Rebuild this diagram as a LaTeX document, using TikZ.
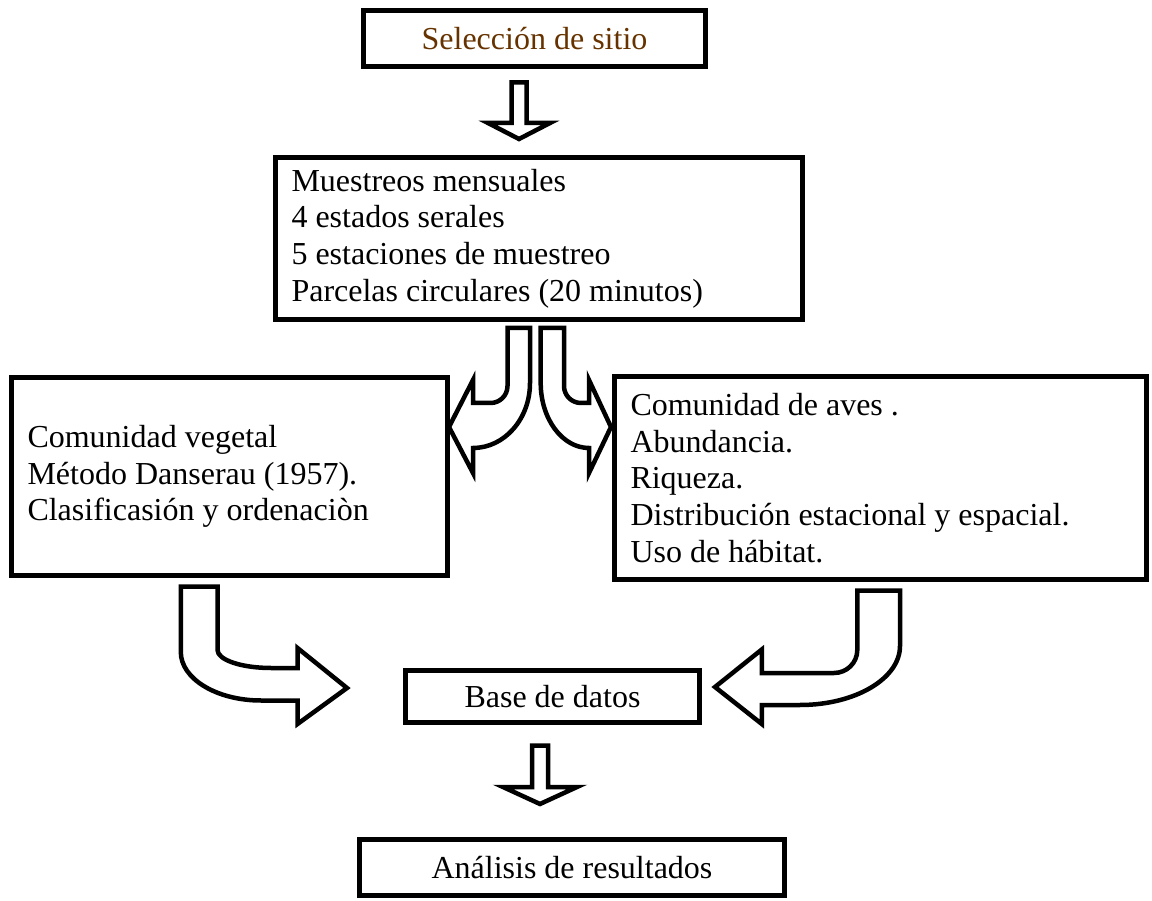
\documentclass[tikz,border=0pt]{standalone}
\usepackage{fontspec}
\setmainfont{Liberation Serif}
\definecolor{brownt}{RGB}{102,51,0}
\begin{document}
\begin{tikzpicture}[x=1pt,y=-1pt,
  box/.style={draw, line width=5pt, rectangle, inner xsep=16pt, inner ysep=0pt,
    font=\fontsize{32}{36.6}\selectfont},
  lbox/.style={box, align=flush left},
  cbox/.style={box, align=center},
  barrow/.style={draw, line width=4.5pt, fill=white, line join=miter, miter limit=10}]
\useasboundingbox (0,0) rectangle (1152,901);

% block arrows
% top straight arrow
\draw[barrow] (511.5,82.5) -- (526.5,82.5) -- (526.5,123) -- (550,123) -- (519,139)
  -- (488,123) -- (511.5,123) -- cycle;
% middle left curved arrow
\draw[barrow] (507.5,328) -- (507.5,386)
  .. controls (507.5,395.4) and (499.9,403) .. (490.5,403)
  -- (473,403) -- (473,380) -- (449,427) -- (473,473) -- (473,448)
  .. controls (504.5,448) and (530,418.9) .. (530,383)
  -- (530,328) -- cycle;
% middle right curved arrow
\draw[barrow] (564,328) -- (564,386)
  .. controls (564,395.4) and (571.6,403) .. (581,403)
  -- (589,403) -- (589,380) -- (611,427) -- (589,473) -- (589,448)
  .. controls (562.3,448) and (540.7,418.9) .. (540.7,383)
  -- (540.7,328) -- cycle;
% bottom left curved arrow
\draw[barrow] (180.8,586.5) -- (217.5,586.5) -- (217.5,650)
  .. controls (217.5,659.9) and (241.5,668) .. (271,668)
  -- (297.5,668) -- (297.5,648) -- (347,688) -- (297.5,724) -- (297.5,700.5)
  -- (261,700.5)
  .. controls (216.7,700.5) and (180.8,678.8) .. (180.8,652)
  -- cycle;
% bottom right curved arrow
\draw[barrow] (857.3,590.5) -- (900,590.5) -- (900,646)
  .. controls (900,678.6) and (855.2,705) .. (800,705)
  -- (761.8,705) -- (761.8,724) -- (715,687) -- (761.8,649.5) -- (761.8,673)
  -- (834,673)
  .. controls (846.9,673) and (857.3,662.7) .. (857.3,650)
  -- cycle;
% bottom straight arrow
\draw[barrow] (532,745.5) -- (548,745.5) -- (548,787) -- (577,787) -- (540,804)
  -- (503,787) -- (532,787) -- cycle;

% boxes
\node[cbox, minimum width=342pt, minimum height=56pt, text=brownt] (sel) at (534.5,38.5)
  {Selección de sitio};
\node[lbox, minimum width=527pt, minimum height=162pt, text width=495pt] (mues) at (539,238.5)
  {Muestreos mensuales\\4 estados serales\\5 estaciones de muestreo\\Parcelas circulares (20 minutos)};
\node[lbox, minimum width=436pt, minimum height=198pt, text width=404pt] (veg) at (229.5,476.5)
  {Comunidad vegetal\\Método Danserau (1957).\\Clasificasión y ordenaciòn};
\node[lbox, minimum width=532pt, minimum height=203pt, text width=500pt] (aves) at (880.5,478)
  {Comunidad de aves .\\Abundancia.\\Riqueza.\\Distribución estacional y espacial.\\Uso de hábitat.};
\node[cbox, minimum width=294pt, minimum height=52pt] (base) at (552.5,696.5)
  {Base de datos};
\node[cbox, minimum width=425pt, minimum height=56pt] (anal) at (572,867.5)
  {Análisis de resultados};
\end{tikzpicture}
\end{document}
